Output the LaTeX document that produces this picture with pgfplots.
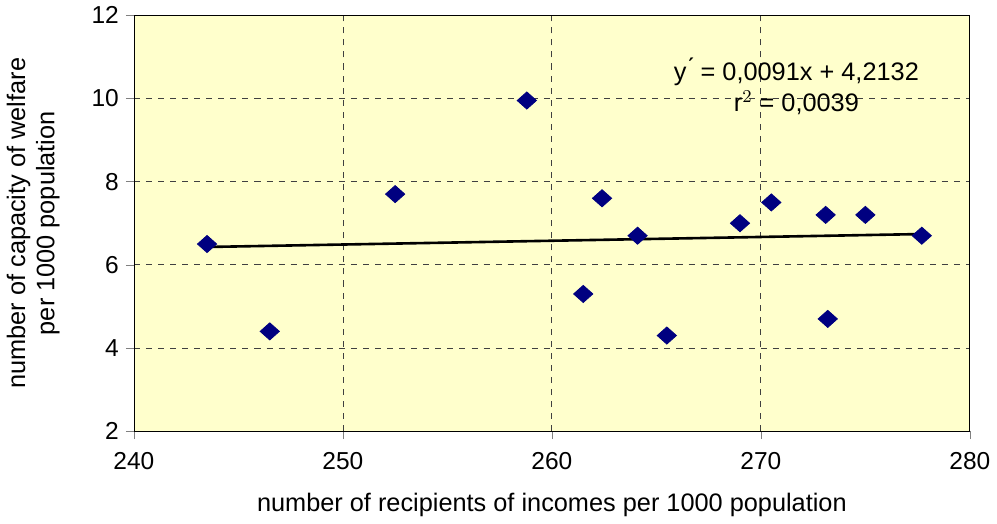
\documentclass[border=0pt]{standalone}
\usepackage{fontspec}
\setmainfont{Liberation Sans}
\usepackage{pgfplots}
\pgfplotsset{compat=1.18}
\definecolor{plotbg}{HTML}{FFFFCC}
\definecolor{navy}{HTML}{000080}
\begin{document}
\begin{tikzpicture}
\begin{axis}[
    scale only axis,
    width=416pt, height=207pt,
    xmin=240, xmax=280, ymin=2, ymax=12,
    xtick={240,250,...,280}, ytick={2,4,...,12},
    axis background/.style={fill=plotbg},
    grid=major, grid style={dashed, black!75},
    tick align=outside, tick pos=left,
    major tick length=4pt,
    /pgf/number format/assume math mode=true,
    tick label style={font=\fontsize{12.2}{14}\selectfont},
    xticklabel style={yshift=-3pt},
    label style={font=\fontsize{12.6}{14.6}\selectfont},
    xlabel={number of recipients of incomes per 1000 population},
    xlabel style={yshift=-5pt},
    ylabel={number of capacity of welfare\\per 1000 population},
    ylabel style={align=center, yshift=9pt},
    clip=false,
]
\addplot[only marks, mark=diamond*, mark size=4.25pt, color=navy,
    mark options={xscale=1.5}] coordinates {
    (243.5,6.5) (246.5,4.4) (252.5,7.7) (258.8,9.95) (261.5,5.3) (262.4,7.6)
    (264.1,6.7) (265.5,4.3) (269.0,7.0) (270.5,7.5) (273.1,7.2) (273.2,4.7)
    (275.0,7.2) (277.7,6.7)
};
\addplot[black, line width=1.3pt] coordinates {(243.5,6.429) (277.7,6.740)};
\node[font=\fontsize{12.6}{15.5}\selectfont, align=center] at (axis cs:271.7,10.3)
    {y\'{} = 0,0091x + 4,2132\\r$^{2}$ = 0,0039};
\end{axis}
\end{tikzpicture}
\end{document}
